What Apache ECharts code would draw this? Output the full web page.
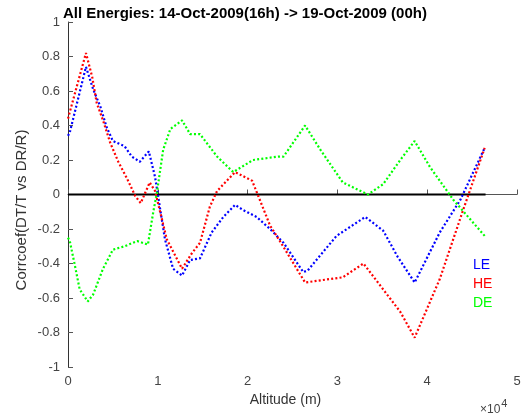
<!DOCTYPE html>
<html>
<head>
<meta charset="utf-8">
<script src="https://cdn.jsdelivr.net/npm/echarts@6/dist/echarts.min.js"></script>
<style>
  html, body { margin: 0; padding: 0; background: #ffffff; }
  #chart { width: 527px; height: 416px; }
</style>
</head>
<body>
<div id="chart"></div>
<script>
// Altitude (m) and correlation values
const leAlt = [0, 200, 2000, 2800, 3600, 4300, 5000, 6300, 7100, 8000, 9000, 9700, 10800, 11700, 12700, 13600, 14700, 16000, 17300, 18600, 19500, 21000, 22500, 24000, 26200, 26700, 29900, 33100, 35100, 36700, 38600, 41400, 43700, 46400];
const leVal = [0.34, 0.36, 0.74, 0.61, 0.51, 0.39, 0.31, 0.28, 0.22, 0.19, 0.25, 0.10, -0.26, -0.43, -0.47, -0.38, -0.37, -0.22, -0.13, -0.06, -0.09, -0.13, -0.20, -0.28, -0.45, -0.44, -0.24, -0.13, -0.21, -0.36, -0.51, -0.22, -0.03, 0.27];
const heAlt = [0, 1000, 2000, 2700, 3200, 3900, 4700, 5600, 6600, 7500, 8100, 9100, 9700, 11000, 12700, 13800, 14700, 15800, 16600, 18600, 20500, 21200, 22500, 23600, 26400, 30600, 32900, 37000, 38600, 41400, 44000, 46400];
const heVal = [0.44, 0.63, 0.82, 0.68, 0.53, 0.43, 0.30, 0.19, 0.09, -0.01, -0.05, 0.07, 0.02, -0.26, -0.43, -0.34, -0.28, -0.07, 0.02, 0.13, 0.08, -0.01, -0.18, -0.27, -0.51, -0.48, -0.40, -0.68, -0.83, -0.49, -0.09, 0.27];
const deAlt = [0, 200, 800, 1300, 2200, 2800, 3900, 5000, 6300, 7700, 8900, 9500, 9900, 10600, 11400, 12700, 13600, 14700, 16600, 18400, 20600, 23400, 24000, 26400, 28100, 30600, 33400, 35100, 37000, 38600, 40300, 42900, 46400];
const deVal = [-0.25, -0.27, -0.42, -0.55, -0.62, -0.58, -0.43, -0.32, -0.30, -0.27, -0.29, -0.10, 0.01, 0.26, 0.38, 0.43, 0.35, 0.35, 0.22, 0.13, 0.20, 0.22, 0.22, 0.40, 0.26, 0.07, 0.00, 0.06, 0.20, 0.31, 0.16, -0.03, -0.24];
const zeroAlt = [0, 46500];
const zeroVal = [0, 0];

const titleText = 'All Energies: 14-Oct-2009(16h) -> 19-Oct-2009 (00h)';
const yName = 'Corrcoef(DT/T vs DR/R)';
const seriesNames = ['LE', 'HE', 'DE'];
const seriesColors = ['#0000ff', '#ff0000', '#00ff00'];

const pairs = (xs, ys) => xs.map((x, i) => [x, ys[i]]);
const font = 'Liberation Sans, Arial, sans-serif';

const chart = echarts.init(document.getElementById('chart'));

const dotted = (name, color, xs, ys) => ({
    name: name,
    type: 'line',
    data: pairs(xs, ys),
    showSymbol: false,
    symbol: 'none',
    lineStyle: { color: color, width: 2.2, type: [2, 2.2] },
    itemStyle: { color: color },
    z: 3
});

const option = {
    backgroundColor: '#ffffff',
    animation: false,
    textStyle: { fontFamily: font },
    title: {
        text: titleText,
        left: 58,
        top: 1,
        textStyle: { fontSize: 15, fontWeight: 'bold', color: '#000000', fontFamily: font }
    },
    legend: {
        orient: 'vertical',
        left: 463,
        top: 253,
        icon: 'none',
        itemWidth: 0,
        itemHeight: 10,
        itemGap: 5,
        data: seriesNames.map((n, i) => ({ name: n, textStyle: { color: seriesColors[i], fontSize: 14 } })),
        textStyle: { fontSize: 14, padding: 0 }
    },
    grid: { left: 68, right: 10, top: 22, bottom: 49 },
    xAxis: {
        type: 'value',
        min: 0,
        max: 50000,
        interval: 10000,
        name: 'Altitude (m)',
        nameLocation: 'middle',
        nameGap: 24,
        nameTextStyle: { fontSize: 14, color: '#333333', padding: [0, 14, 0, 0] },
        axisLine: { show: true, lineStyle: { color: '#555555', width: 1 } },
        axisTick: { show: true, inside: true, length: 5, lineStyle: { color: '#555555' } },
        axisLabel: { fontSize: 13, color: '#444444', margin: 8, formatter: v => String(v / 10000) },
        splitLine: { show: false }
    },
    yAxis: {
        type: 'value',
        min: -1,
        max: 1,
        interval: 0.2,
        axisLine: { show: true, lineStyle: { color: '#333333', width: 1 } },
        axisTick: { show: true, inside: true, length: 5, lineStyle: { color: '#555555' } },
        axisLabel: { fontSize: 13, color: '#444444', margin: 8, formatter: v => String(parseFloat(v.toFixed(1))) },
        splitLine: { show: false }
    },
    graphic: [{
        type: 'text',
        x: 22,
        y: 210,
        rotation: Math.PI / 2,
        style: {
            text: yName,
            fontSize: 15,
            fill: '#333333',
            fontFamily: font,
            align: 'center',
            verticalAlign: 'middle'
        }
    }, {
        type: 'text',
        left: 480,
        top: 398,
        style: {
            text: '{a|×10}{b|4}',
            rich: {
                a: { fontSize: 12, fill: '#444444', verticalAlign: 'bottom', fontFamily: font },
                b: { fontSize: 11, fill: '#444444', verticalAlign: 'top', padding: [0, 0, 7, 1], fontFamily: font }
            }
        }
    }],
    series: [
        {
            name: 'zero',
            type: 'line',
            data: pairs(zeroAlt, zeroVal),
            showSymbol: false,
            symbol: 'none',
            lineStyle: { color: '#000000', width: 2 },
            z: 2
        },
        dotted('LE', seriesColors[0], leAlt, leVal),
        dotted('HE', seriesColors[1], heAlt, heVal),
        dotted('DE', seriesColors[2], deAlt, deVal)
    ]
};

chart.setOption(option);
</script>
</body>
</html>
